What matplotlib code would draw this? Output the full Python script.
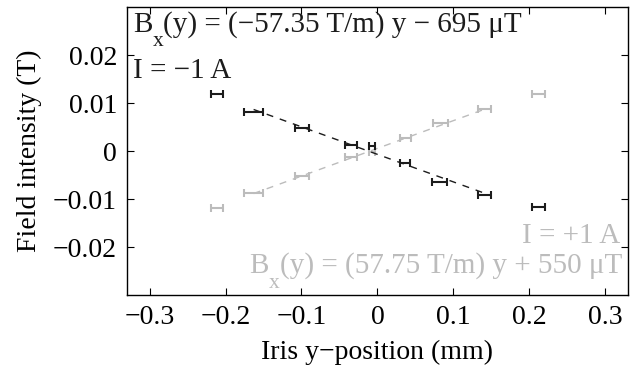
"""
    Field intensity vs iris position, both coil currents
"""

import numpy as np
import matplotlib.pyplot as plt

plt.rcParams['font.family'] = 'Liberation Serif'
plt.rcParams['font.size'] = 20

# iris position (mm) and half-width of the position uncertainty
y_neg = [-0.211, -0.163, -0.0995, -0.035, -0.0074, 0.0364, 0.0816, 0.1408, 0.2118]
dy_neg = [0.008, 0.0127, 0.0096, 0.0077, 0.004, 0.007, 0.0099, 0.0083, 0.0088]
b_neg = [0.01188, 0.00819, 0.00473, 0.00125, 0.00104, -0.00257, -0.0064, -0.00917, -0.0116]  # T, I = -1 A

y_pos = [-0.211, -0.163, -0.0995, -0.035, -0.0074, 0.0373, 0.0825, 0.1408, 0.2118]
dy_pos = [0.008, 0.0127, 0.0092, 0.0081, 0.004, 0.0072, 0.0099, 0.0083, 0.0088]
b_pos = [-0.01194, -0.00881, -0.0052, -0.0013, -0.0002, 0.00264, 0.00577, 0.00868, 0.0118]  # T, I = +1 A

# linear fits: slope in T/m, offset in uT
slope_neg, offset_neg = -57.35, -695
slope_pos, offset_pos = 57.75, 550
fit_range = [-0.163, 0.1408]  # mm

dark = '#1c1c1c'
light = '#bcbcbc'
FS = 21      # in-plot text size
SUB = 15.5   # subscript size
DROP = 9.5   # subscript drop, points


def bx_text(ax, x, y, rest, color, ha):
    # "B" + lowered subscript "x" + the rest, chained off each other's extents
    if ha == 'left':
        t1 = ax.text(x, y, 'B', transform=ax.transAxes, ha='left', va='baseline', fontsize=FS, color=color)
        t2 = ax.annotate('x', xy=(1, 0), xycoords=t1, xytext=(0.3, -DROP), textcoords='offset points',
                         ha='left', va='bottom', fontsize=SUB, color=color)
        ax.annotate(rest, xy=(1, 0), xycoords=(t2, t1), ha='left', va='bottom', fontsize=FS, color=color)
    else:
        t3 = ax.text(x, y, rest, transform=ax.transAxes, ha='right', va='baseline', fontsize=FS, color=color)
        t2 = ax.annotate('x', xy=(0, 0), xycoords=t3, xytext=(0, -DROP), textcoords='offset points',
                         ha='right', va='bottom', fontsize=SUB, color=color)
        ax.annotate('B', xy=(0, 0), xycoords=(t2, t3), xytext=(-0.3, 0), textcoords='offset points',
                    ha='right', va='bottom', fontsize=FS, color=color)


fig = plt.figure(figsize=(6.34, 3.69), dpi=100)
ax = fig.add_axes([0.2, 0.2005, 0.7905, 0.7805])

yf = np.array(fit_range)
ax.plot(yf, slope_pos * yf * 1e-3 + offset_pos * 1e-6, color=light, lw=1.0, ls=(0, (5, 5)))
ax.errorbar(y_pos, b_pos, xerr=dy_pos, fmt='none', ecolor=light, elinewidth=1.5, capsize=3, capthick=1.5)
ax.plot(yf, slope_neg * yf * 1e-3 + offset_neg * 1e-6, color=dark, lw=1.0, ls=(0, (5, 5)))
ax.errorbar(y_neg, b_neg, xerr=dy_neg, fmt='none', ecolor=dark, elinewidth=1.5, capsize=3, capthick=1.5)

ax.set_xlim(-0.33, 0.33)
ax.set_ylim(-0.03, 0.03)
ax.set_xticks([-0.3, -0.2, -0.1, 0, 0.1, 0.2, 0.3])
ax.set_xticklabels(['\u22120.3', '\u22120.2', '\u22120.1', '0', '0.1', '0.2', '0.3'])
ax.set_yticks([-0.02, -0.01, 0, 0.01, 0.02])
ax.set_yticklabels(['\u22120.02', '\u22120.01', '0', '0.01', '0.02'])
ax.tick_params(direction='in', top=True, right=True, length=5, width=0.8, pad=7)
for s in ax.spines.values():
    s.set_linewidth(1.0)

ax.set_xlabel('Iris y\u2212position (mm)', labelpad=7)
ax.set_ylabel('Field intensity (T)', labelpad=8)

bx_text(ax, 0.012, 0.913, '(y) = (\u221257.35 T/m) y \u2212 695 \u03bcT', dark, 'left')
ax.text(0.012, 0.753, 'I = \u22121 A', transform=ax.transAxes, ha='left', va='baseline', fontsize=FS, color=dark)
ax.text(0.985, 0.181, 'I = +1 A', transform=ax.transAxes, ha='right', va='baseline', fontsize=FS, color=light)
bx_text(ax, 0.988, 0.076, '(y) = (57.75 T/m) y + 550 \u03bcT', light, 'right')

plt.savefig('out.png', dpi=100)
